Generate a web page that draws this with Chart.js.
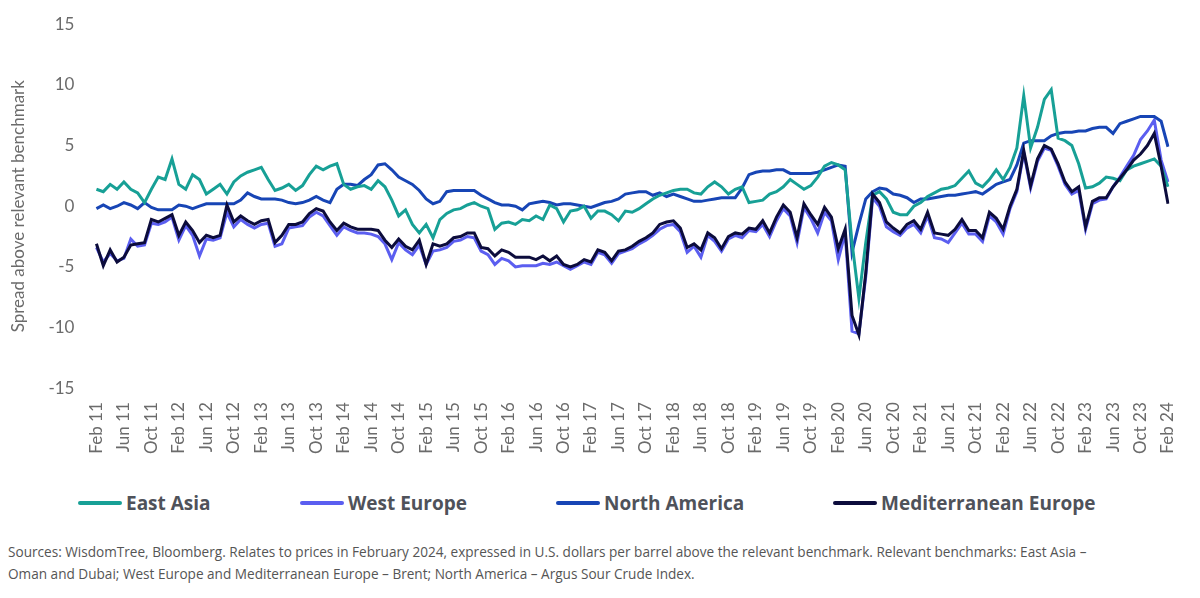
<!DOCTYPE html>
<html>
<head>
<meta charset="utf-8">
<script src="https://cdn.jsdelivr.net/npm/chart.js@4.4.1/dist/chart.umd.min.js"></script>
<style>
body { margin: 0; background: #fff; width: 1200px; height: 598px; overflow: hidden; font-family: Lato, sans-serif; }
#wrap { position: absolute; left: 0; top: 0; width: 1200px; height: 464px; }
#legend { position: absolute; left: 0; top: 490px; width: 1200px; height: 28px; }
.item { position: absolute; top: 0; display: flex; align-items: center; font-family: 'Open Sans', sans-serif; font-weight: bold; font-size: 19px; color: #4f525a; white-space: nowrap; }
.item span.sw { display: inline-block; width: 44px; height: 4px; margin-right: 4px; border-radius: 2px; }
#note { position: absolute; left: 8px; top: 541px; font-family: 'Open Sans', sans-serif; font-size: 13.6px; line-height: 22px; color: #555; white-space: nowrap; }
</style>
</head>
<body>
<div id="wrap"><canvas id="mycanvas"></canvas></div>
<div id="legend"></div>
<div id="note">Sources: WisdomTree, Bloomberg. Relates to prices in February 2024, expressed in U.S. dollars per barrel above the relevant benchmark. Relevant benchmarks: East Asia –<br>Oman and Dubai; West Europe and Mediterranean Europe – Brent; North America – Argus Sour Crude Index.</div>
<script>
// monthly, Feb 2011 .. Feb 2024
var monthNames = ['Jan','Feb','Mar','Apr','May','Jun','Jul','Aug','Sep','Oct','Nov','Dec'];
var seriesNames = ['East Asia', 'West Europe', 'North America', 'Mediterranean Europe'];

var eastAsia = [
	1.4, 1.2, 1.8, 1.4, 2.0, 1.4, 1.1, 0.3, 1.4, 2.4, 2.2, 3.9,
	1.8, 1.4, 2.6, 2.2, 1.0, 1.4, 1.8, 1.0, 2.0, 2.5, 2.8, 3.0,
	3.2, 2.2, 1.3, 1.5, 1.8, 1.3, 1.7, 2.6, 3.3, 3.0, 3.3, 3.5,
	1.8, 1.4, 1.6, 1.7, 1.4, 2.1, 1.6, 0.5, -0.8, -0.3, -1.5, -2.2,
	-1.5, -2.6, -1.1, -0.6, -0.3, -0.2, 0.1, 0.3, 0.0, -0.2, -1.9, -1.4,
	-1.3, -1.5, -1.1, -1.2, -0.8, -1.1, 0.1, -0.2, -1.3, -0.4, -0.3, 0.0,
	-1.0, -0.4, -0.4, -0.7, -1.2, -0.4, -0.5, -0.2, 0.2, 0.6, 0.9, 1.1,
	1.3, 1.4, 1.4, 1.1, 1.0, 1.6, 2.0, 1.6, 1.0, 1.4, 1.6, 0.3,
	0.4, 0.5, 1.0, 1.2, 1.6, 2.2, 1.8, 1.4, 1.7, 2.4, 3.3, 3.6,
	3.4, 3.0, -3.0, -7.6, -3.0, 0.9, 1.2, 0.6, -0.5, -0.7, -0.7, 0.0,
	0.3, 0.8, 1.1, 1.4, 1.5, 1.7, 2.3, 2.9, 1.9, 1.6, 2.2, 3.0,
	2.2, 3.2, 4.8, 9.1, 4.8, 6.5, 8.8, 9.6, 5.6, 5.4, 5.0, 3.5,
	1.5, 1.6, 1.9, 2.4, 2.3, 2.1, 3.0, 3.3, 3.5, 3.7, 3.9, 3.3,
	1.6
];

var westEurope = [
	-3.4, -4.6, -3.9, -4.5, -4.3, -2.7, -3.3, -3.2, -1.4, -1.5, -1.3, -0.9,
	-2.8, -1.6, -2.4, -4.1, -2.7, -2.8, -2.6, -0.5, -1.7, -1.1, -1.5, -1.8,
	-1.5, -1.4, -3.3, -3.1, -1.8, -1.7, -1.6, -0.9, -0.5, -0.8, -1.6, -2.4,
	-1.7, -2.0, -2.2, -2.2, -2.3, -2.5, -3.1, -4.4, -3.0, -3.6, -4.0, -3.2,
	-4.8, -3.7, -3.6, -3.4, -2.9, -2.8, -2.5, -2.6, -3.7, -4.0, -4.8, -4.3,
	-4.5, -5.0, -4.9, -4.9, -4.9, -4.7, -4.8, -4.6, -4.9, -5.2, -4.9, -4.6,
	-4.8, -3.8, -4.0, -4.7, -3.9, -3.7, -3.5, -3.1, -2.8, -2.4, -1.9, -1.6,
	-1.5, -2.1, -3.8, -3.3, -4.2, -2.4, -2.9, -3.7, -2.7, -2.4, -2.6, -2.0,
	-2.1, -1.5, -2.5, -1.2, -0.2, -0.8, -3.0, -0.1, -1.0, -2.2, -0.5, -1.2,
	-4.4, -2.2, -10.3, -10.5, -5.8, 0.7, 0.0, -1.7, -2.1, -2.4, -1.8, -1.5,
	-2.2, -0.8, -2.6, -2.7, -3.0, -2.2, -1.4, -2.3, -2.3, -2.9, -0.8, -1.3,
	-2.3, -0.2, 1.2, 4.4, 1.5, 3.7, 4.8, 4.6, 3.3, 1.8, 1.0, 1.3,
	-1.9, 0.2, 0.5, 0.6, 1.6, 2.4, 3.3, 4.2, 5.5, 6.2, 7.1, 3.8,
	2.0
];

var northAmerica = [
	-0.2, 0.1, -0.2, 0.0, 0.3, 0.1, -0.2, 0.3, -0.1, -0.3, -0.3, -0.3,
	0.1, 0.0, -0.2, 0.0, 0.2, 0.2, 0.2, 0.2, 0.2, 0.5, 1.1, 0.8,
	0.6, 0.6, 0.6, 0.5, 0.3, 0.2, 0.3, 0.5, 0.8, 0.5, 0.3, 1.4,
	1.8, 1.8, 1.7, 2.2, 2.6, 3.4, 3.5, 3.0, 2.4, 2.1, 1.8, 1.3,
	0.6, 0.2, 0.4, 1.2, 1.3, 1.3, 1.3, 1.3, 0.9, 0.6, 0.3, 0.1,
	0.1, 0.0, -0.3, 0.2, 0.3, 0.4, 0.3, 0.1, 0.2, 0.2, 0.1, 0.0,
	-0.1, 0.1, 0.3, 0.4, 0.6, 1.0, 1.1, 1.2, 1.2, 0.9, 1.1, 0.8,
	1.0, 0.8, 0.6, 0.4, 0.4, 0.5, 0.6, 0.7, 0.7, 0.7, 1.5, 2.6,
	2.8, 2.9, 2.9, 3.0, 3.0, 2.7, 2.7, 2.7, 2.7, 2.8, 3.0, 3.2,
	3.4, 3.3, -3.8, -1.5, 0.6, 1.2, 1.5, 1.4, 1.0, 0.9, 0.7, 0.3,
	0.6, 0.6, 0.7, 0.8, 0.9, 0.9, 1.0, 1.1, 1.2, 1.0, 1.4, 1.8,
	2.0, 2.2, 3.4, 5.2, 5.4, 5.4, 5.4, 5.8, 6.0, 6.1, 6.1, 6.2,
	6.2, 6.4, 6.5, 6.5, 6.0, 6.8, 7.0, 7.2, 7.4, 7.4, 7.4, 7.0,
	4.9
];

var medEurope = [
	-3.1, -4.9, -3.6, -4.6, -4.2, -3.2, -3.1, -3.0, -1.1, -1.3, -1.0, -0.7,
	-2.4, -1.3, -2.0, -3.0, -2.4, -2.6, -2.4, 0.1, -1.3, -0.8, -1.2, -1.5,
	-1.2, -1.1, -3.0, -2.4, -1.5, -1.5, -1.3, -0.6, -0.2, -0.4, -1.3, -2.0,
	-1.4, -1.7, -1.9, -1.9, -1.9, -2.0, -2.8, -3.4, -2.7, -3.3, -3.6, -2.8,
	-4.8, -3.1, -3.3, -3.1, -2.6, -2.5, -2.2, -2.2, -3.4, -3.5, -4.1, -3.6,
	-3.8, -4.2, -4.2, -4.2, -4.4, -4.1, -4.5, -4.1, -4.8, -5.0, -4.8, -4.4,
	-4.6, -3.6, -3.8, -4.5, -3.7, -3.6, -3.3, -2.9, -2.6, -2.2, -1.5, -1.3,
	-1.2, -1.8, -3.4, -3.1, -3.6, -2.2, -2.6, -3.5, -2.5, -2.2, -2.3, -1.8,
	-1.9, -1.2, -2.2, -0.9, 0.1, -0.5, -2.6, 0.2, -0.7, -1.5, -0.1, -0.9,
	-3.5, -1.9, -9.0, -10.6, -5.5, 1.0, 0.3, -1.3, -1.8, -2.2, -1.5, -1.2,
	-1.9, -0.5, -2.2, -2.3, -2.4, -1.9, -1.1, -2.0, -2.0, -2.6, -0.5, -1.0,
	-1.9, 0.0, 1.4, 4.6, 1.7, 3.9, 5.0, 4.7, 3.5, 2.0, 1.2, 1.6,
	-1.7, 0.4, 0.7, 0.7, 1.6, 2.3, 3.0, 3.8, 4.3, 5.0, 6.0, 3.3,
	0.2
];

var seriesColors = ['#17a096', '#5b5ef0', '#1745b5', '#0c0c3c'];
var yTicks = [-15, -10, -5, 0, 5, 10, 15];
var legendX = [78, 300, 556, 833];

var labels = [];
for (var i = 0; i < eastAsia.length; i++) {
	var m = (1 + i) % 12;
	var yy = 11 + Math.floor((1 + i) / 12);
	labels.push(monthNames[m] + ' ' + yy);
}

var allData = [eastAsia, westEurope, northAmerica, medEurope];
var drawOrder = [1, 3, 2, 0]; // med europe on top, west europe underneath
var datasets = [];
for (var s = 0; s < allData.length; s++) {
	datasets.push({
		label: seriesNames[s],
		data: allData[s],
		borderColor: seriesColors[s],
		backgroundColor: seriesColors[s],
		borderWidth: 3,
		pointRadius: 0,
		tension: 0,
		order: drawOrder[s]
	});
}

var ctx = document.getElementById('mycanvas');
var chart = new Chart(ctx, {
	type: 'line',
	data: { labels: labels, datasets: datasets },
	options: {
		responsive: true,
		maintainAspectRatio: false,
		animation: false,
		layout: { padding: { top: 4, left: 8, right: 32, bottom: 4 } },
		plugins: { legend: { display: false }, tooltip: { enabled: false } },
		scales: {
			x: {
				grid: { display: false },
				border: { display: false },
				ticks: {
					autoSkip: false,
					minRotation: 90,
					maxRotation: 90,
					padding: 6,
					color: '#6b6b6b',
					font: { family: 'Lato', size: 17 },
					callback: function(val, index) {
						return index % 4 === 0 ? this.getLabelForValue(val) : null;
					}
				}
			},
			y: {
				min: yTicks[0],
				max: yTicks[yTicks.length - 1],
				grid: { display: false },
				border: { display: false },
				afterBuildTicks: function(axis) {
					axis.ticks = yTicks.map(function(v) { return { value: v }; });
				},
				ticks: {
					padding: 14,
					color: '#6b6b6b',
					font: { family: 'Lato', size: 17 }
				},
				title: {
					display: true,
					text: 'Spread above relevant benchmark',
					color: '#6b6b6b',
					font: { family: 'Lato', size: 17 },
					padding: { top: 0, bottom: 6 }
				}
			}
		}
	}
});

// legend in the original order
var legendBox = document.getElementById('legend');
for (var k = 0; k < seriesNames.length; k++) {
	var item = document.createElement('div');
	item.className = 'item';
	item.style.left = legendX[k] + 'px';
	item.innerHTML = '<span class="sw" style="background:' + seriesColors[k] + '"></span>' + seriesNames[k];
	legendBox.appendChild(item);
}
</script>
</body>
</html>
